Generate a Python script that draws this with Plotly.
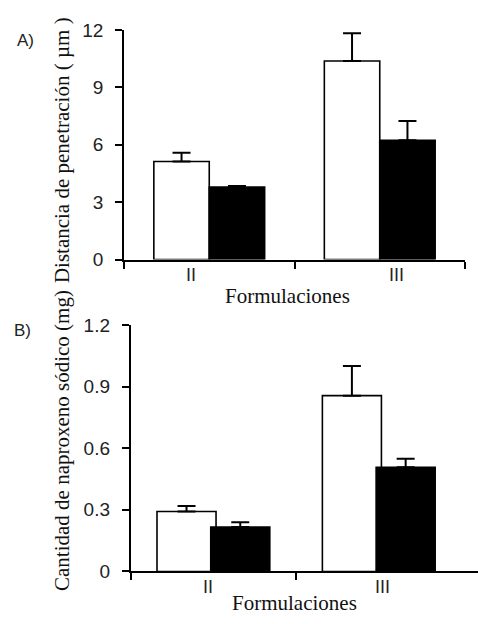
import plotly.graph_objects as go

# Formulations compared in both panels
categories = ["II", "III"]

# Panel A: penetration distance (µm), mean and upper error
pen_white = [5.13, 10.38]
pen_white_err = [0.46, 1.45]
pen_black = [3.79, 6.24]
pen_black_err = [0.06, 1.00]

# Panel B: amount of sodium naproxen (mg), mean and upper error
nap_white = [0.292, 0.856]
nap_white_err = [0.027, 0.144]
nap_black = [0.216, 0.507]
nap_black_err = [0.024, 0.042]

# Y tick values
pen_ticks = [0, 3, 6, 9, 12]
nap_ticks = [0, 0.3, 0.6, 0.9, 1.2]

W, H = 478, 624


def px_x(p):
    return p / W


def px_y(p):
    return 1 - p / H


SERIF = "Liberation Serif"
SANS = "Liberation Sans"

fig = go.Figure()

pos = [i + 0.5 for i in range(len(categories))]


def add_pair(white, white_err, black, black_err, xa, ya):
    for vals, err, fill in ((white, white_err, "white"), (black, black_err, "black")):
        fig.add_trace(go.Bar(
            x=pos, y=vals, xaxis=xa, yaxis=ya,
            marker=dict(color=fill, line=dict(color="black", width=1.6)),
            error_y=dict(type="data", array=err, arrayminus=[0] * len(err),
                         symmetric=False, color="black", thickness=2, width=9),
            showlegend=False, hoverinfo="skip",
        ))


add_pair(pen_white, pen_white_err, pen_black, pen_black_err, "x", "y")
add_pair(nap_white, nap_white_err, nap_black, nap_black_err, "x2", "y2")

axis_common = dict(showline=True, linecolor="black", linewidth=1.8,
                   showgrid=False, zeroline=False, ticks="outside",
                   tickcolor="black", tickwidth=1.8, ticklen=7)

tick_font = dict(family=SANS, size=19, color="#222")

fig.update_layout(
    width=W, height=H,
    margin=dict(l=0, r=0, t=0, b=0),
    paper_bgcolor="white", plot_bgcolor="white",
    barmode="group",
    bargap=0.35,
    xaxis=dict(domain=[px_x(124), px_x(465)], range=[0, 2], anchor="y",
               tickvals=[0, 1, 2], ticktext=["", "", ""], **axis_common),
    yaxis=dict(domain=[px_y(258.3), px_y(20.7)], range=[0, 12], anchor="x",
               tickvals=pen_ticks, ticklabelstandoff=8,
               tickfont=tick_font, **axis_common),
    xaxis2=dict(domain=[px_x(130.7), 1.0], range=[0, 2.1], anchor="y2",
                tickvals=[0, 1], ticktext=["", ""], **axis_common),
    yaxis2=dict(domain=[px_y(581), px_y(326)], range=[0, 1.2], anchor="x2",
                tickvals=nap_ticks, ticklabelstandoff=8,
                tickfont=tick_font, **axis_common),
)

# Panel B bars are a bit wider
fig.update_traces(width=0.357, selector=dict(xaxis="x2"))

annotations = []

# Category labels under each axis
label_shift_a = [-0.11, 0.10]
label_shift_b = [-0.03, 0.02]
cat_font = dict(family=SANS, size=18, color="#222")
for i, cat in enumerate(categories):
    annotations.append(dict(x=pos[i] + label_shift_a[i], y=px_y(274), xref="x", yref="paper",
                            text=cat, showarrow=False, yanchor="middle", font=cat_font))
    annotations.append(dict(x=pos[i] + label_shift_b[i], y=px_y(597), xref="x2", yref="paper",
                            text=cat, showarrow=False, yanchor="middle", font=cat_font))

title_font = dict(family=SERIF, size=21, color="#111")

# Axis titles
annotations += [
    dict(x=px_x(287), y=px_y(296), xref="paper", yref="paper", text="Formulaciones",
         showarrow=False, yanchor="middle", font=title_font),
    dict(x=px_x(294), y=px_y(614), xref="paper", yref="paper", text="Formulaciones",
         showarrow=False, yanchor="middle", font=title_font),
    dict(x=px_x(62), y=px_y(145), xref="paper", yref="paper",
         text="Distancia de penetración ( µm )", textangle=-90,
         showarrow=False, xanchor="center", yanchor="middle", font=title_font),
    dict(x=px_x(62), y=px_y(446), xref="paper", yref="paper",
         text="Cantidad de naproxeno sódico (mg)", textangle=-90,
         showarrow=False, xanchor="center", yanchor="middle", font=title_font),
    # Panel letters
    dict(x=px_x(25), y=px_y(32), xref="paper", yref="paper", text="A)",
         showarrow=False, xanchor="center", yanchor="middle",
         font=dict(family=SANS, size=17, color="#222")),
    dict(x=px_x(22), y=px_y(332), xref="paper", yref="paper", text="B)",
         showarrow=False, xanchor="center", yanchor="middle",
         font=dict(family=SANS, size=17, color="#222")),
]

fig.update_layout(annotations=annotations)

fig.write_html("out.html")
